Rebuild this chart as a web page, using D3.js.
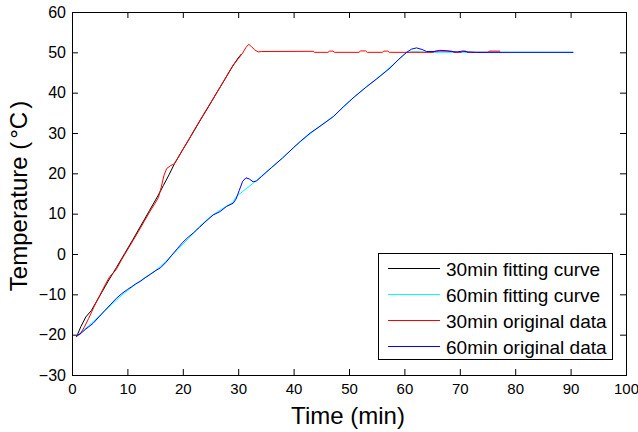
<!DOCTYPE html>
<html>
<head>
<meta charset="utf-8">
<script src="https://cdn.jsdelivr.net/npm/d3@7"></script>
<style>
  body { margin: 0; background: #fff; }
  svg { display: block; }
  text { font-family: "Liberation Sans", Arial, sans-serif; fill: #000; }
  .axis path { display: none; }
  .axis line { stroke: #000; }
</style>
</head>
<body>
<div id="chart"></div>
<script>
// values: [time (min), temperature (°C)]
let fit30 = [[0.8,-20.6],[1.6,-18.0],[2.5,-15.6],[3.5,-14.0],[5,-10.4],[6.5,-6.8],[8,-3.4],
  [9.5,0.1],[11,3.6],[12.5,7.2],[14,10.8],[15.5,14.4],[16.5,17.0],[17.5,19.6],[18.5,22.4],
  [20,25.9],[21.5,29.3],[23,32.8],[24.5,36.2],[26,39.7],[27.5,43.1],[29,46.6],[30,48.6],[30.6,49.6]];

let fit60 = [[0.9,-20.2],[3,-17.8],[6,-14.0],[9,-10.2],[11,-8.0],[13,-6.0],[15,-4.2],[17,-1.8],
  [19,1.0],[21,3.8],[23,6.8],[25,9.3],[27,11.1],[29,12.8],[29.7,14.3],[33.2,18.1],[35,20.3],
  [38,23.8],[41,27.6],[44,30.9],[47,33.9],[50,37.8],[53,41.3],[56,44.6],[58,47.0],[60.4,50.0],
  [62,50.2],[64,50.0],[90.5,50.0]];

let orig30 = [[0.8,-20.4],[1.5,-19.8],[2.2,-18.2],[3,-16.0],[4,-13.0],[5,-10.3],[6,-7.6],[6.8,-5.6],
  [7.4,-4.8],[8,-3.8],[9,-1.3],[10,1.0],[11,3.3],[12,5.6],[13,8.0],[14,10.4],[15,12.6],[15.6,14.0],
  [16.1,16.5],[16.6,19.5],[17.1,21.2],[17.8,21.9],[18.5,22.4],[19.2,24.0],[20,25.9],[21,28.2],
  [22,30.6],[23,32.9],[24,35.2],[25,37.4],[26,39.7],[27,42.0],[28,44.3],[29,46.6],[30,48.4],
  [30.8,49.8],[31.4,51.2],[31.9,52.0],[32.4,51.4],[33,50.6],[33.6,50.1],[34.2,50.2],[43.5,50.25],
  [43.8,50.0],[46.2,50.0],[46.5,50.3],[47.1,50.3],[47.4,50.0],[51.8,50.0],[52.1,50.35],[53.0,50.35],
  [53.3,50.0],[56.0,50.0],[56.3,50.3],[57.0,50.3],[57.3,50.0],[65.2,50.0],[65.5,50.3],[68.6,50.3],
  [68.9,50.0],[70.3,50.0],[70.5,50.3],[71.1,50.3],[71.3,50.0],[75.1,50.0],[75.3,50.3],[77.3,50.3]];

let orig60 = [[0.9,-20.2],[1.5,-19.8],[2.5,-18.6],[3.8,-17.2],[5,-15.4],[6,-13.9],[6.9,-12.6],
  [8,-11.0],[9,-9.8],[10,-8.8],[10.8,-8.1],[11.5,-7.4],[12.3,-6.8],[13.2,-5.9],[14.2,-5.0],
  [15,-4.2],[16,-3.4],[17,-2.0],[18,-0.3],[19,1.3],[20,2.9],[21,4.2],[21.9,5.2],[23,6.6],
  [24,7.9],[25.5,9.7],[26.7,10.5],[27.9,11.8],[29.1,12.6],[29.6,13.6],[30.2,15.8],[30.8,18.0],
  [31.4,18.9],[32,18.6],[32.7,17.9],[33.3,18.1],[34.2,19.2],[36,21.4],[38,23.8],[40,26.4],
  [41.2,27.9],[43,30.0],[45,31.9],[47.2,34.1],[49,36.5],[51,39.0],[53.2,41.5],[55,43.4],
  [57.4,46.1],[59,48.3],[60.4,50.0],[61.3,50.8],[62.2,51.1],[63.2,50.7],[64,50.2],[65.5,50.2],
  [66.4,50.5],[67.5,50.4],[68.5,50.2],[69.5,50.1],[70.5,50.3],[71.5,50.1],[73,50.0],[90.5,50.0]];

let seriesNames = ["30min fitting curve", "60min fitting curve", "30min original data", "60min original data"];
let seriesColors = ["#000000", "#00ffff", "#ff0000", "#0000ff"];
let xTicks = [0, 10, 20, 30, 40, 50, 60, 70, 80, 90, 100];
let yTicks = [-30, -20, -10, 0, 10, 20, 30, 40, 50, 60];

let W = 638, H = 432;
let marginLeft = 72, marginTop = 12, width = 554, height = 363;

let svg = d3.select("#chart").append("svg")
    .attr("width", W)
    .attr("height", H);

let g = svg.append("g")
    .attr("transform", `translate(${marginLeft},${marginTop})`);

let x = d3.scaleLinear().domain([0, 100]).range([0, width]);
let y = d3.scaleLinear().domain([-30, 60]).range([height, 0]);

// axes, ticks pointing inward on all four sides
g.append("g")
    .attr("class", "axis")
    .attr("transform", `translate(0,${height})`)
    .call(d3.axisBottom(x).tickValues(xTicks).tickSizeInner(-6).tickSizeOuter(0).tickPadding(8))
    .selectAll("text").style("font-size", "15px");

g.append("g")
    .attr("class", "axis")
    .call(d3.axisLeft(y).tickValues(yTicks).tickSizeInner(-6).tickSizeOuter(0).tickPadding(6))
    .selectAll("text").style("font-size", "16px");

g.append("g")
    .attr("class", "axis")
    .call(d3.axisTop(x).tickValues(xTicks).tickSizeInner(-6).tickSizeOuter(0).tickFormat(""));

g.append("g")
    .attr("class", "axis")
    .attr("transform", `translate(${width},0)`)
    .call(d3.axisRight(y).tickValues(yTicks).tickSizeInner(-6).tickSizeOuter(0).tickFormat(""));

g.selectAll(".axis text").attr("fill", "#000");

// the lines
let line = d3.line()
    .x(d => x(d[0]))
    .y(d => y(d[1]));

let allSeries = [fit30, fit60, orig30, orig60];

g.selectAll(".series")
    .data(allSeries)
    .enter()
    .append("path")
    .attr("class", "series")
    .attr("d", line)
    .attr("fill", "none")
    .attr("stroke", (d, i) => seriesColors[i])
    .attr("stroke-width", 1);

// plot box
g.append("rect")
    .attr("width", width)
    .attr("height", height)
    .attr("fill", "none")
    .attr("stroke", "#000")
    .attr("stroke-width", 1)
    .attr("shape-rendering", "crispEdges");

// axis titles
svg.append("text")
    .attr("text-anchor", "middle")
    .attr("x", 348)
    .attr("y", 424)
    .style("font-size", "24px")
    .text("Time (min)");

let yl = svg.append("text")
    .attr("text-anchor", "middle")
    .attr("transform", "translate(27,196)rotate(-90)")
    .style("font-size", "24px");
yl.append("tspan").text("Temperature (");
yl.append("tspan").attr("dx", 3).text("\u00B0C");
yl.append("tspan").attr("dx", 3).text(")");

// legend
let legend = svg.append("g")
    .attr("transform", "translate(378,253)");

legend.append("rect")
    .attr("width", 234)
    .attr("height", 106)
    .attr("fill", "#fff")
    .attr("stroke", "#000")
    .attr("shape-rendering", "crispEdges");

let items = legend.selectAll(".item")
    .data(seriesNames)
    .enter()
    .append("g")
    .attr("class", "item")
    .attr("transform", (d, i) => `translate(0,${15.5 + i * 26})`);

items.append("line")
    .attr("x1", 10)
    .attr("x2", 62)
    .attr("stroke", (d, i) => seriesColors[i])
    .attr("stroke-width", 1);

items.append("text")
    .attr("x", 68)
    .attr("y", 7)
    .style("font-size", "19px")
    .text(d => d);
</script>
</body>
</html>
